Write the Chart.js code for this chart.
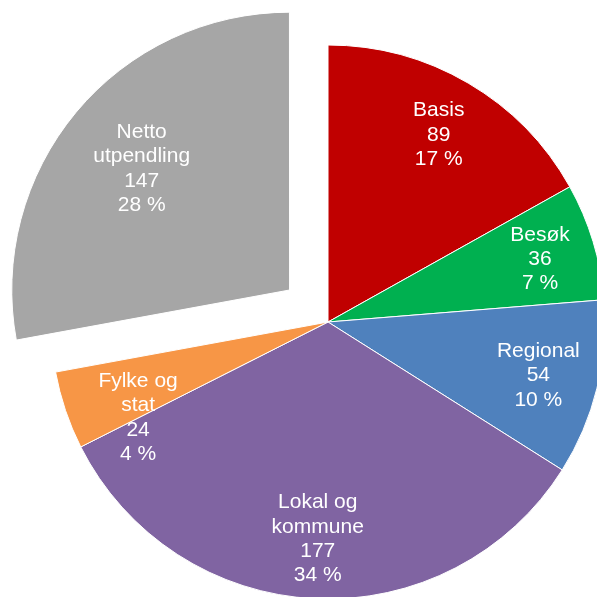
<!DOCTYPE html>
<html>
<head>
<meta charset="utf-8">
<script src="https://cdn.jsdelivr.net/npm/chart.js@4/dist/chart.umd.min.js"></script>
<style>
  html, body { margin: 0; padding: 0; background: #fff; }
  #wrap { width: 597px; height: 597px; }
</style>
</head>
<body>
<div id="wrap"><canvas id="pieChart" width="597" height="597"></canvas></div>
<script>
// data
const categories = [['Basis'], ['Besøk'], ['Regional'], ['Lokal og', 'kommune'], ['Fylke og', 'stat'], ['Netto', 'utpendling']];
const values = [89, 36, 54, 177, 24, 147];
const percentLabels = ['17 %', '7 %', '10 %', '34 %', '4 %', '28 %'];

const sliceColors = ['#C00000', '#00B050', '#4F81BD', '#8064A2', '#F79646', '#A6A6A6'];
// visible explode distance in px (chart.js divides the offset option by 4 when drawing)
const sliceOffsets = [0, 0, 0, 0, 0, 50];

// where the label sits: fraction of radius, and fraction along the slice angle
const labelRadius = [0.79, 0.80, 0.782, 0.778, 0.765, 0.695];
const labelAlong = [0.5, 0.5, 0.5, 0.5, 0.03, 0.5];

const FONT_SIZE = 21;
const LINE_H = 24.4;

const sliceLabelPlugin = {
  id: 'sliceLabels',
  afterDatasetsDraw(chart) {
    const ctx = chart.ctx;
    const arcs = chart.getDatasetMeta(0).data;
    ctx.save();
    ctx.fillStyle = '#ffffff';
    ctx.font = FONT_SIZE + 'px "Liberation Sans", Arial, sans-serif';
    ctx.textAlign = 'center';
    ctx.textBaseline = 'alphabetic';
    arcs.forEach((arc, i) => {
      const p = arc.getProps(['x', 'y', 'startAngle', 'endAngle', 'outerRadius']);
      const mid = (p.startAngle + p.endAngle) / 2;
      const off = sliceOffsets[i];
      const cx = p.x + Math.cos(mid) * off;
      const cy = p.y + Math.sin(mid) * off;
      const ang = p.startAngle + (p.endAngle - p.startAngle) * labelAlong[i];
      const r = p.outerRadius * labelRadius[i];
      const lx = cx + Math.cos(ang) * r;
      const ly = cy + Math.sin(ang) * r;
      const lines = categories[i].concat([String(values[i]), percentLabels[i]]);
      const y0 = ly - (lines.length - 1) * LINE_H / 2 + FONT_SIZE * 0.716 / 2;
      lines.forEach((t, k) => ctx.fillText(t, lx, y0 + k * LINE_H));
    });
    ctx.restore();
  }
};

new Chart(document.getElementById('pieChart'), {
  type: 'pie',
  data: {
    labels: categories,
    datasets: [{
      data: values,
      backgroundColor: sliceColors,
      borderColor: '#ffffff',
      borderWidth: 1,
      offset: sliceOffsets.map(o => o * 4),
      clip: false
    }]
  },
  options: {
    responsive: false,
    animation: false,
    radius: 277,
    layout: { padding: { left: 59, top: 47, right: 0, bottom: 0 } },
    plugins: {
      legend: { display: false },
      tooltip: { enabled: false }
    }
  },
  plugins: [sliceLabelPlugin]
});
</script>
</body>
</html>
